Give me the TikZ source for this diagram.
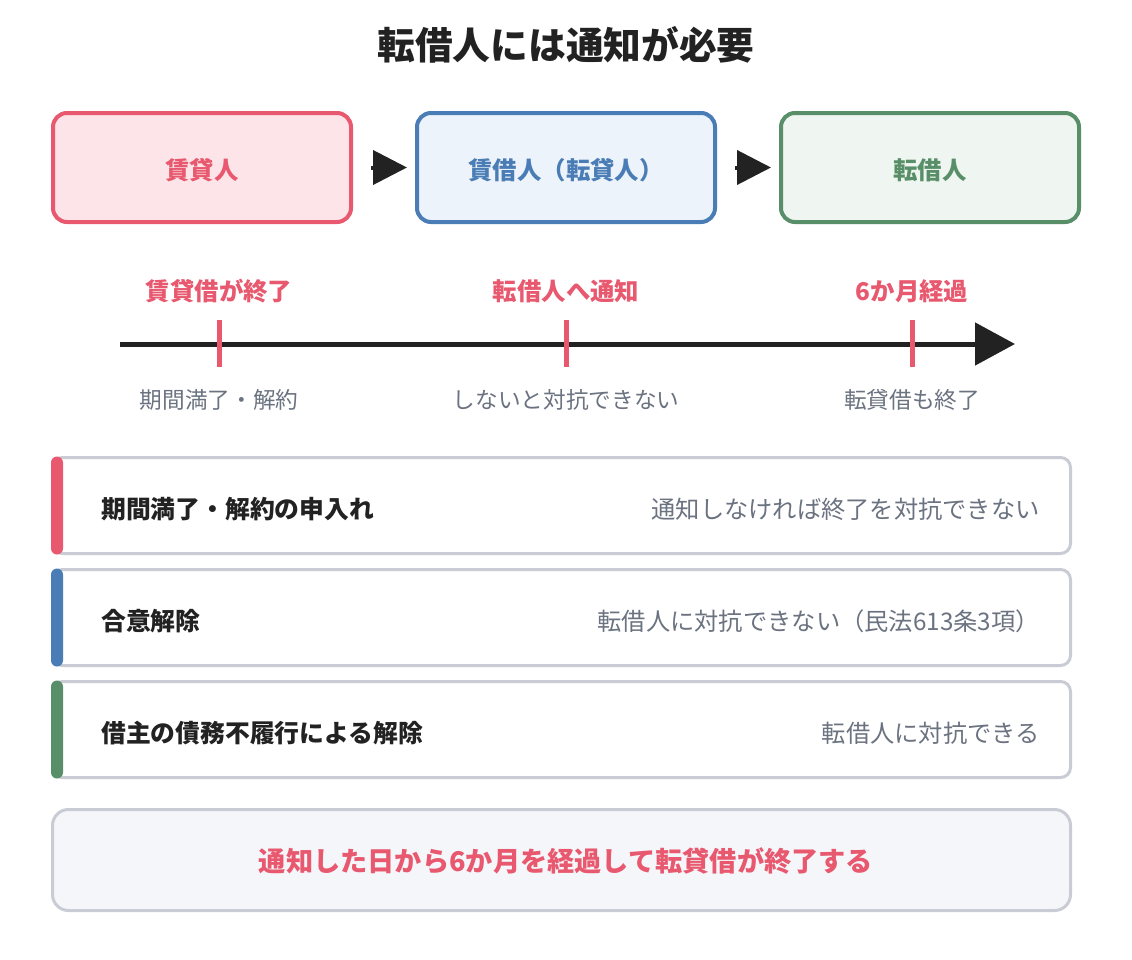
\documentclass[tikz,border=0pt]{standalone}
\usepackage{fontspec}
\setmainfont{Noto Sans CJK JP}
\usetikzlibrary{arrows.meta}

\definecolor{cred}{HTML}{E8586E}
\definecolor{cblue}{HTML}{4A7DB5}
\definecolor{cgreen}{HTML}{588F68}
\definecolor{fred}{HTML}{FCE4E8}
\definecolor{fblue}{HTML}{EDF3FA}
\definecolor{fgreen}{HTML}{EFF5F0}
\definecolor{ink}{HTML}{222222}
\definecolor{muted}{HTML}{6B7280}
\definecolor{rim}{HTML}{C9CBD5}
\definecolor{pale}{HTML}{F5F6F9}

\newcommand{\fs}[1]{\fontsize{#1}{#1}\selectfont}

\tikzset{
  party/.style={draw=#1, line width=3pt, rounded corners=10.5pt,
    minimum width=298*0.75pt, minimum height=109*0.75pt},
  partytext/.style={text=#1, font=\fs{18.3}\bfseries, inner sep=0pt},
  flow/.style={draw=ink, line width=3pt, -{Triangle[length=25.5pt,width=25.5pt]}},
  tick/.style={draw=cred, line width=3.75pt},
  toplabel/.style={text=cred, font=\fs{18.3}\bfseries, inner sep=0pt},
  sublabel/.style={text=muted, font=\fs{17}, inner sep=0pt},
  rowbox/.style={draw=rim, line width=2.25pt, rounded corners=7.5pt,
    minimum width=1018*0.75pt, minimum height=96*0.75pt, fill=white},
  rowbar/.style={fill=#1, rounded corners=4.5pt},
  rowhead/.style={text=ink, font=\fs{18.6}\bfseries, anchor=west, inner sep=0pt},
  rownote/.style={text=muted, font=\fs{18.2}, anchor=east, inner sep=0pt},
}

\begin{document}
\begin{tikzpicture}[x=0.75pt, y=-0.75pt]
  \useasboundingbox[fill=white] (0,0) rectangle (1132,960);

  % title
  \node[text=ink, font=\fs{28.3}\bfseries, inner sep=0pt] (title) at (566,45) {転借人には通知が必要};

  % parties
  \node[party=cred, fill=fred]     (lessor) at (202,167.5) {};
  \node[party=cblue, fill=fblue]   (lessee) at (566,167.5) {};
  \node[party=cgreen, fill=fgreen] (sub)    at (930,167.5) {};
  \node[partytext=cred]   (lessorT) at (202,170) {賃貸人};
  \node[partytext=cblue]  (lesseeT) at (566,170) {賃借人（転貸人）};
  \node[partytext=cgreen] (subT)    at (930,170) {転借人};
  \draw[flow, shorten <=13.5pt, shorten >=6pt] (lessor) -- (lessee);
  \draw[flow, shorten <=13.5pt, shorten >=6pt] (lessee) -- (sub);

  % timeline
  \coordinate (t0) at (120,344);
  \coordinate (t1) at (1015,344);
  \draw[draw=ink, line width=3.75pt, -{Triangle[length=30pt,width=31.5pt]}] (t0) -- (t1);

  \foreach \n/\x in {a/219, b/566, c/912} {
    \coordinate (\n top) at (\x,320);
    \coordinate (\n bot) at (\x,367);
    \draw[tick] (\n top) -- (\n bot);
  }

  \node[toplabel] (la) at (219,291) {賃貸借が終了};
  \node[toplabel] (lb) at (566,291) {転借人へ通知};
  \node[toplabel] (lc) at (912,291) {6か月経過};
  \node[sublabel] (sa) at (219,400) {期間満了・解約};
  \node[sublabel] (sb) at (566,400) {しないと対抗できない};
  \node[sublabel] (sc) at (912,400) {転貸借も終了};

  % termination cases
  \foreach \n/\y/\c in {r1/505.5/cred, r2/617.5/cblue, r3/729.5/cgreen} {
    \node[rowbox] (\n) at (561.5,\y) {};
    \fill[rowbar=\c] (51,\y-49) rectangle (63,\y+49);
  }
  \node[rowhead] (h1) at (101,509) {期間満了・解約の申入れ};
  \node[rownote] (n1) at (1040,509) {通知しなければ終了を対抗できない};
  \node[rowhead] (h2) at (101,621) {合意解除};
  \node[rownote] (n2) at (1040,621) {転借人に対抗できない（民法613条3項）};
  \node[rowhead] (h3) at (101,733) {借主の債務不履行による解除};
  \node[rownote] (n3) at (1040,733) {転借人に対抗できる};

  % conclusion
  \node[draw=rim, line width=2.25pt, rounded corners=12pt, fill=pale,
        minimum width=1018*0.75pt, minimum height=101*0.75pt] (summary) at (561.5,860) {};
  \node[text=cred, font=\fs{20.4}\bfseries, inner sep=0pt] (summaryT) at (566,861)
        {通知した日から6か月を経過して転貸借が終了する};
\end{tikzpicture}
\end{document}
